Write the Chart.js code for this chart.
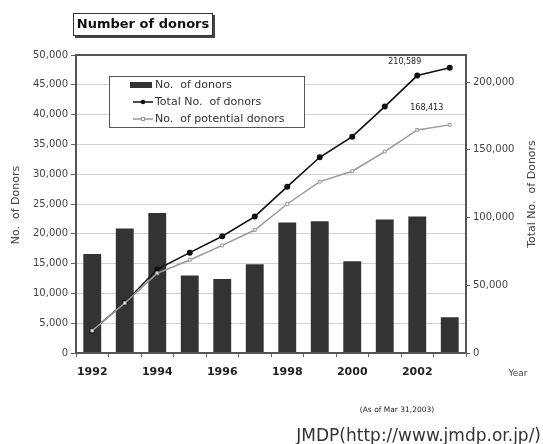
<!DOCTYPE html>
<html lang="en">

<head>
  <meta charset="utf-8">
  <title>Number of donors</title>
  <script src="https://cdn.jsdelivr.net/npm/chart.js"></script>
  <style>
    body { margin: 0; background: #fff; }
    canvas { display: block; }
  </style>
</head>

<body>
  <canvas id="chart" width="543" height="444"></canvas>

  <script>
    // Yearly registrations and running totals
    const years = ['1992', '1993', '1994', '1995', '1996', '1997', '1998', '1999', '2000', '2001', '2002', '2003'];
    const donors = [16600, 20900, 23500, 13000, 12400, 14900, 21900, 22100, 15400, 22400, 22900, 6000];
    const totalDonors = [16500, 37100, 61800, 74100, 86200, 100700, 122800, 144500, 159700, 181900, 204800, 210589];
    const potentialDonors = [16500, 36800, 58900, 68700, 79500, 90800, 110000, 126500, 134200, 148700, 164700, 168413];
    const totalTicks = [0, 50000, 100000, 150000, 200000];

    const FONT = '"DejaVu Sans", sans-serif';

    function fmt(v) {
      return Number(v).toLocaleString('en-US');
    }

    // frame, boxed title, in-plot legend, axis captions and notes
    const decorations = {
      id: 'decorations',
      afterDatasetsDraw(chart) {
        const ctx = chart.ctx;
        const a = chart.chartArea;
        ctx.save();

        // plot frame
        ctx.strokeStyle = '#555';
        ctx.lineWidth = 2;
        ctx.strokeRect(a.left, a.top, a.right - a.left, a.bottom - a.top);

        // value labels for the last year
        const meta1 = chart.getDatasetMeta(1);
        const meta2 = chart.getDatasetMeta(2);
        const p1 = meta1.data[meta1.data.length - 1];
        const p2 = meta2.data[meta2.data.length - 1];
        ctx.fillStyle = '#222';
        ctx.font = '8px ' + FONT;
        ctx.textAlign = 'center';
        ctx.textBaseline = 'middle';
        ctx.fillText(fmt(totalDonors[totalDonors.length - 1]), p1.x - 45, p1.y - 6);
        ctx.fillText(fmt(potentialDonors[potentialDonors.length - 1]), p2.x - 23, p2.y - 17);

        // legend box
        ctx.fillStyle = '#fff';
        ctx.fillRect(109.5, 76.5, 195, 51);
        ctx.strokeStyle = '#555';
        ctx.lineWidth = 1;
        ctx.strokeRect(109.5, 76.5, 195, 51);

        ctx.fillStyle = '#333';
        ctx.fillRect(130, 82, 22, 6);

        ctx.strokeStyle = '#111';
        ctx.lineWidth = 1.5;
        ctx.beginPath();
        ctx.moveTo(133, 102);
        ctx.lineTo(153, 102);
        ctx.stroke();
        ctx.fillStyle = '#111';
        ctx.beginPath();
        ctx.arc(143, 102, 2.2, 0, Math.PI * 2);
        ctx.fill();

        ctx.strokeStyle = '#999';
        ctx.beginPath();
        ctx.moveTo(133, 119);
        ctx.lineTo(153, 119);
        ctx.stroke();
        ctx.fillStyle = '#fff';
        ctx.lineWidth = 1;
        ctx.fillRect(141.5, 117.5, 3, 3);
        ctx.strokeRect(141.5, 117.5, 3, 3);

        ctx.fillStyle = '#333';
        ctx.font = '11px ' + FONT;
        ctx.textAlign = 'left';
        ctx.fillText('No.  of donors', 155, 85);
        ctx.fillText('Total No.  of donors', 155, 102);
        ctx.fillText('No.  of potential donors', 155, 119);

        ctx.restore();
      },
      afterDraw(chart) {
        const ctx = chart.ctx;
        ctx.save();

        // boxed title with drop shadow
        ctx.fillStyle = '#444';
        ctx.fillRect(75, 15, 140, 23);
        ctx.fillStyle = '#fff';
        ctx.fillRect(73, 13, 140, 23);
        ctx.strokeStyle = '#333';
        ctx.lineWidth = 1;
        ctx.strokeRect(73.5, 13.5, 139, 22);
        ctx.fillStyle = '#111';
        ctx.font = 'bold 13px ' + FONT;
        ctx.textAlign = 'center';
        ctx.textBaseline = 'middle';
        ctx.fillText('Number of donors', 143, 25);

        // axis captions
        ctx.fillStyle = '#444';
        ctx.font = '11px ' + FONT;
        ctx.save();
        ctx.translate(16, 205);
        ctx.rotate(-Math.PI / 2);
        ctx.fillText('No.  of Donors', 0, 0);
        ctx.restore();
        ctx.save();
        ctx.translate(532, 194);
        ctx.rotate(-Math.PI / 2);
        ctx.fillText('Total No.  of Donors', 0, 0);
        ctx.restore();

        ctx.font = '9px ' + FONT;
        ctx.fillText('Year', 518, 374);

        ctx.fillStyle = '#222';
        ctx.font = '7.5px ' + FONT;
        ctx.fillText('(As of Mar 31,2003)', 397, 410);

        ctx.fillStyle = '#333';
        ctx.font = '17px ' + FONT;
        ctx.textAlign = 'right';
        ctx.fillText('JMDP(http://www.jmdp.or.jp/)', 541, 437);

        ctx.restore();
      }
    };

    const ctx = document.getElementById('chart').getContext('2d');
    new Chart(ctx, {
      data: {
        labels: years,
        datasets: [
          {
            type: 'bar',
            label: 'No. of donors',
            data: donors,
            backgroundColor: '#333333',
            borderWidth: 0,
            barPercentage: 0.55,
            categoryPercentage: 1,
            yAxisID: 'y',
            order: 3
          },
          {
            type: 'line',
            label: 'Total No. of donors',
            data: totalDonors,
            borderColor: '#111',
            borderWidth: 1.6,
            pointRadius: 2.2,
            pointBackgroundColor: '#111',
            pointBorderColor: '#111',
            tension: 0,
            yAxisID: 'y1',
            order: 2
          },
          {
            type: 'line',
            label: 'No. of potential donors',
            data: potentialDonors,
            borderColor: '#999',
            borderWidth: 1.5,
            pointStyle: 'rect',
            pointRadius: 2,
            pointBackgroundColor: '#fff',
            pointBorderColor: '#999',
            pointBorderWidth: 1,
            tension: 0,
            yAxisID: 'y1',
            order: 1
          }
        ]
      },
      options: {
        responsive: false,
        animation: false,
        layout: { padding: { top: 55, left: 0, right: 0, bottom: 0 } },
        plugins: {
          legend: { display: false },
          tooltip: { enabled: false }
        },
        scales: {
          x: {
            type: 'category',
            offset: true,
            grid: {
              offset: true,
              drawOnChartArea: false,
              drawTicks: true,
              tickLength: 4,
              tickColor: '#666'
            },
            border: { display: false },
            ticks: {
              autoSkip: false,
              maxRotation: 0,
              padding: 9,
              color: '#222',
              font: { family: FONT, size: 11, weight: 'bold' },
              callback: function (value, index) {
                return index % 2 === 0 ? years[index] : '';
              }
            },
            afterFit: function (scale) { scale.height = 91; }
          },
          y: {
            position: 'left',
            min: 0,
            max: 50000,
            grid: {
              color: '#d2d2d2',
              lineWidth: 1,
              tickLength: 5,
              tickColor: '#666'
            },
            border: { display: false },
            ticks: {
              stepSize: 5000,
              padding: 3,
              color: '#444',
              font: { family: FONT, size: 10 },
              callback: function (value) { return fmt(value); }
            },
            afterFit: function (scale) { scale.width = 76; }
          },
          y1: {
            position: 'right',
            min: 0,
            max: 220000,
            grid: {
              drawOnChartArea: false,
              tickLength: 4,
              tickColor: '#666'
            },
            border: { display: false },
            ticks: {
              padding: 3,
              color: '#444',
              font: { family: FONT, size: 10 },
              callback: function (value) { return fmt(value); }
            },
            afterBuildTicks: function (scale) {
              scale.ticks = totalTicks.map(v => ({ value: v }));
            },
            afterFit: function (scale) { scale.width = 77; }
          }
        }
      },
      plugins: [decorations]
    });
  </script>
</body>

</html>
